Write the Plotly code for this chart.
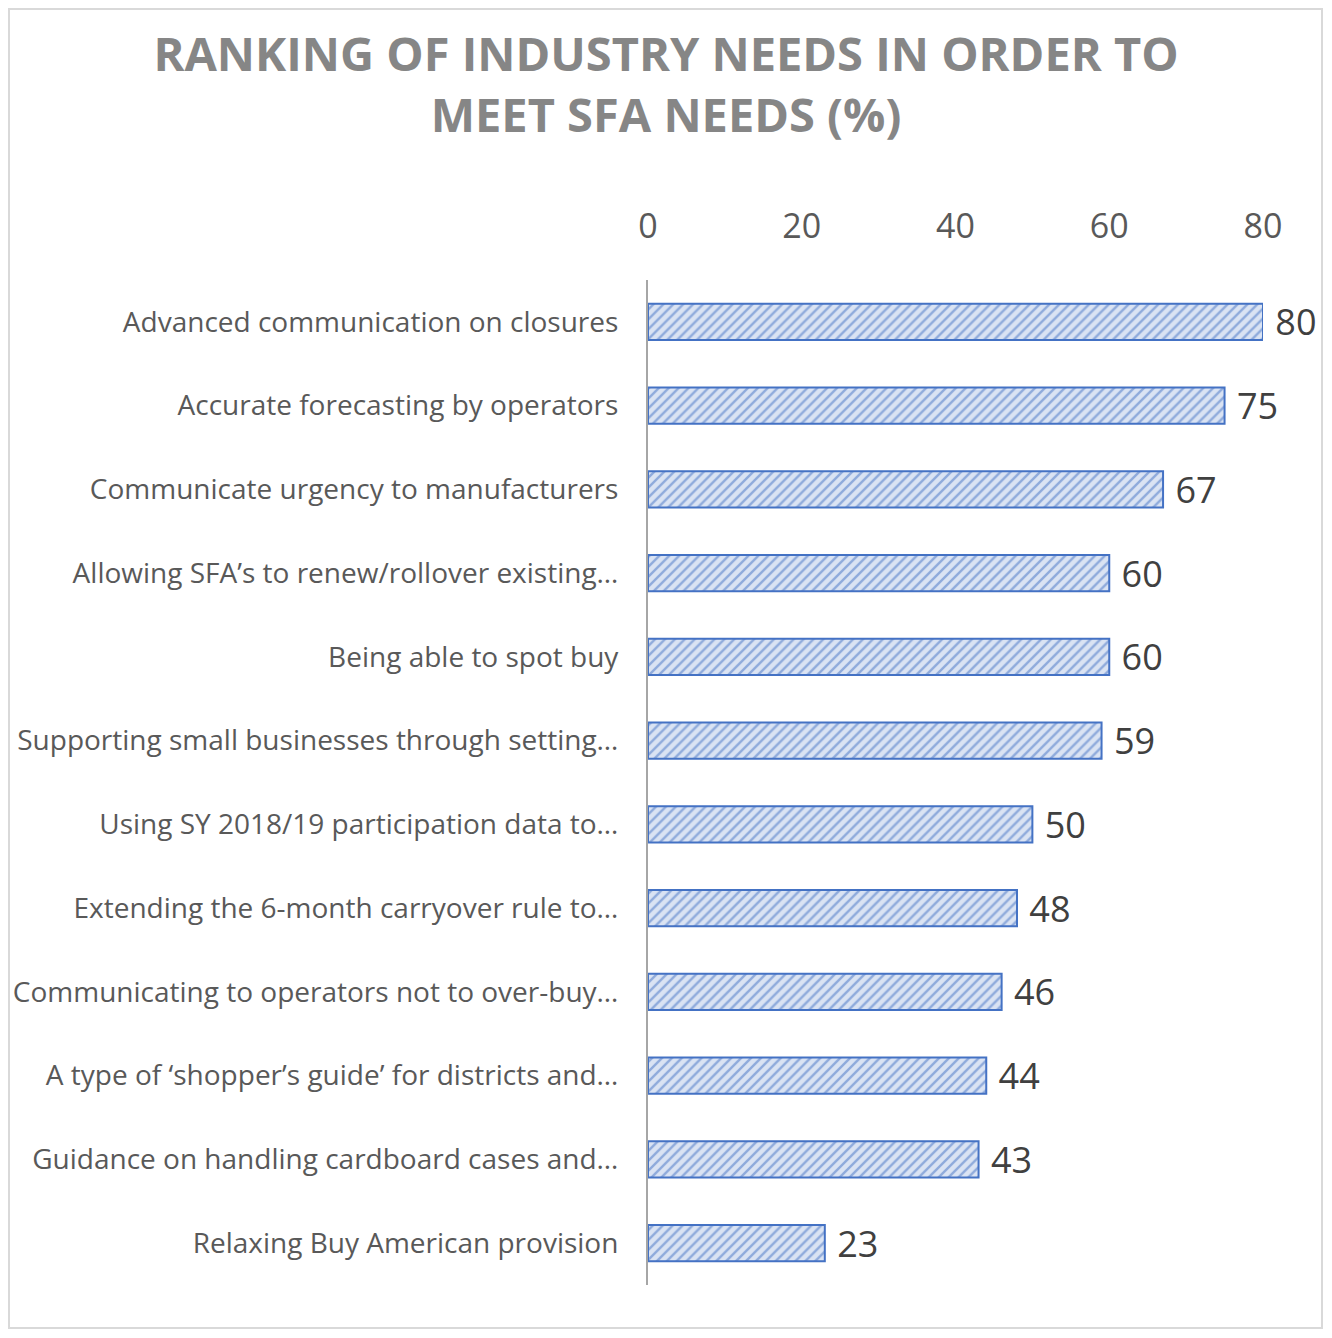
import plotly.graph_objects as go

categories = [
    "Advanced communication on closures",
    "Accurate forecasting by operators",
    "Communicate urgency to manufacturers",
    "Allowing SFA’s to renew/rollover existing…",
    "Being able to spot buy",
    "Supporting small businesses through setting…",
    "Using SY 2018/19 participation data to…",
    "Extending the 6-month carryover rule to…",
    "Communicating to operators not to over-buy…",
    "A type of ‘shopper’s guide’ for districts and…",
    "Guidance on handling cardboard cases and…",
    "Relaxing Buy American provision",
]
values = [80, 75, 67, 60, 60, 59, 50, 48, 46, 44, 43, 23]
tick_vals = [0, 20, 40, 60, 80]

FONT = "Open Sans"
W, H = 1316, 1322
L, R, T, B = 640, 61, 272, 45

fig = go.Figure()
fig.add_trace(go.Bar(
    y=categories,
    x=values,
    orientation="h",
    marker=dict(
        color="#dae3f3",
        line=dict(color="#4472c4", width=2),
        pattern=dict(shape="/", fgcolor="#4472c4", bgcolor="#dae3f3",
                     size=7, solidity=0.35, fillmode="overlay"),
    ),
    text=[str(v) for v in values],
    texttemplate=" %{text}",
    textposition="outside",
    constraintext="none",
    textfont=dict(family=FONT, size=36, color="#404040"),
    cliponaxis=False,
    hoverinfo="x+y",
))

fig.update_layout(
    width=W, height=H,
    paper_bgcolor="white",
    plot_bgcolor="white",
    showlegend=False,
    bargap=0.57,
    margin=dict(l=L, r=R, t=T, b=B, autoexpand=False),
    title=dict(
        text="RANKING OF INDUSTRY NEEDS IN ORDER TO<br>MEET SFA NEEDS (%)",
        x=658 / W, xanchor="center",
        y=1 - 63 / H, yanchor="middle",
        yref="container", xref="container",
        font=dict(family=FONT, size=47, color="#868686", weight="bold"),
    ),
    xaxis=dict(
        side="top",
        range=[0, 80],
        tickvals=tick_vals,
        ticktext=[str(t) for t in tick_vals],
        showgrid=False,
        zeroline=False,
        showline=False,
        ticks="",
        automargin=False,
        ticklabelstandoff=34,
        tickfont=dict(family=FONT, size=34, color="#595959"),
    ),
    yaxis=dict(
        autorange="reversed",
        showgrid=False,
        showline=True,
        linecolor="#a6a6a6",
        linewidth=2,
        ticks="",
        automargin=False,
        ticklabelstandoff=22,
        tickfont=dict(family=FONT, size=28, color="#595959"),
    ),
    shapes=[dict(
        type="rect", xref="paper", yref="paper",
        x0=-(L - 1) / (W - L - R), x1=1 + (R - 2) / (W - L - R),
        y0=-(B - 2) / (H - T - B), y1=1 + (T - 1) / (H - T - B),
        line=dict(color="#d9d9d9", width=2),
        fillcolor="rgba(0,0,0,0)",
        layer="below",
    )],
)

fig.write_html("out.html")
